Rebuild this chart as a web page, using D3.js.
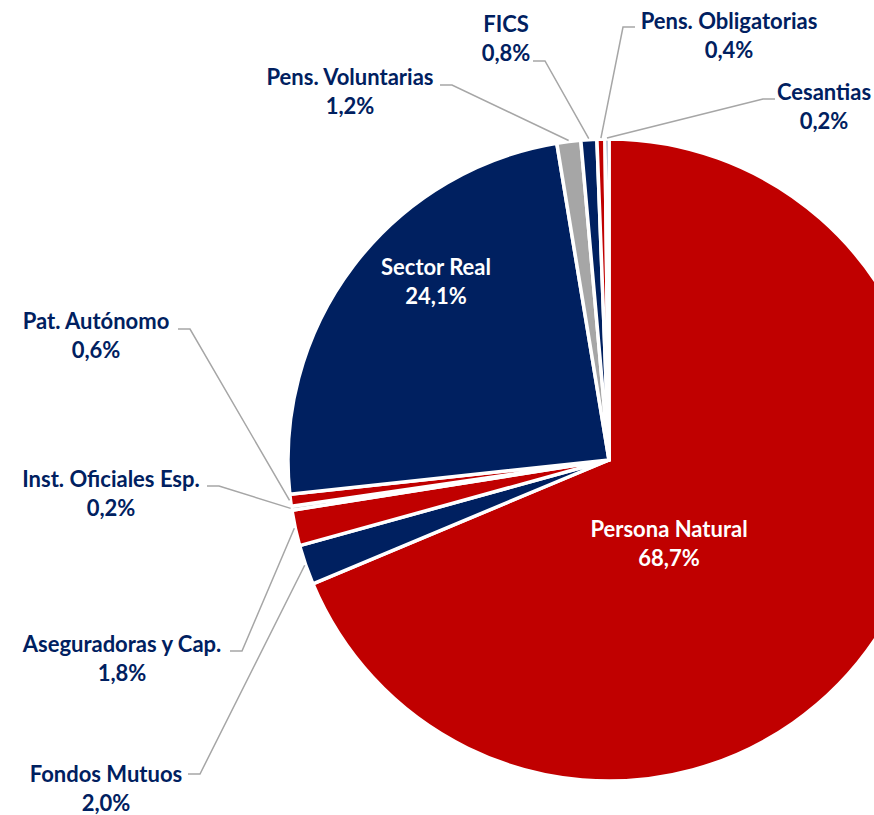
<!DOCTYPE html>
<html>
<head>
<meta charset="utf-8">
<script src="https://cdn.jsdelivr.net/npm/d3@7"></script>
<style>
  body { margin: 0; background: #fff; }
  svg { display: block; }
</style>
</head>
<body>
<script>
// slice order runs clockwise from 12 o'clock
const categories = ["Persona Natural", "Fondos Mutuos", "Aseguradoras y Cap.", "Inst. Oficiales Esp.",
  "Pat. Autónomo", "Sector Real", "Pens. Voluntarias", "FICS", "Pens. Obligatorias", "Cesantias"];
const shares = [68.7, 2.0, 1.8, 0.2, 0.6, 24.1, 1.2, 0.8, 0.4, 0.2];
const sliceColors = ["#C00000", "#002060", "#C00000", "#A6A6A6", "#C00000", "#002060", "#A6A6A6", "#002060", "#C00000", "#002060"];

// where each label sits (text centre, first baseline) and where its leader starts
const labelLayout = {
  "Persona Natural": {x: 669, y: 537, inside: true},
  "Sector Real": {x: 436, y: 275, inside: true},
  "Fondos Mutuos": {x: 106, y: 782, lx: 188, ly: 774, dir: 1},
  "Aseguradoras y Cap.": {x: 122, y: 652, lx: 230, ly: 651, dir: 1},
  "Inst. Oficiales Esp.": {x: 111, y: 487, lx: 207, ly: 486, dir: 1},
  "Pat. Autónomo": {x: 96, y: 329, lx: 178, ly: 329, dir: 1},
  "Pens. Voluntarias": {x: 350, y: 85, lx: 440, ly: 85, dir: 1},
  "FICS": {x: 506, y: 32, lx: 533, ly: 61, dir: 1},
  "Pens. Obligatorias": {x: 729, y: 29, lx: 635, ly: 27, dir: -1},
  "Cesantias": {x: 824, y: 100, lx: 775, ly: 99, dir: -1}
};

const width = 874, height = 815;
const cx = 609, cy = 460, radius = 321;
const navy = "#002060";

const locale = d3.formatLocale({decimal: ",", thousands: ".", grouping: [3], currency: ["$", ""]});
const fmt = locale.format(".1f");

const data = categories.map((name, i) => ({name, value: shares[i], color: sliceColors[i]}));

const pie = d3.pie().sort(null).value(d => d.value);
const arcs = pie(data);
const arc = d3.arc().innerRadius(0).outerRadius(radius);
const edge = d3.arc().innerRadius(radius + 1).outerRadius(radius + 1);

const svg = d3.select("body").append("svg")
    .attr("width", width)
    .attr("height", height);

const g = svg.append("g").attr("transform", `translate(${cx},${cy})`);

g.selectAll("path.slice")
  .data(arcs)
  .join("path")
    .attr("class", "slice")
    .attr("d", arc)
    .attr("fill", d => d.data.color)
    .attr("stroke", "#fff")
    .attr("stroke-width", 3.5)
    .attr("stroke-linejoin", "round");

// leader lines for the outside labels
const outside = arcs.filter(d => !labelLayout[d.data.name].inside);
svg.append("g")
    .attr("fill", "none")
    .attr("stroke", "#A6A6A6")
    .attr("stroke-width", 1.5)
  .selectAll("path")
  .data(outside)
  .join("path")
    .attr("d", d => {
      const L = labelLayout[d.data.name];
      const [ex, ey] = edge.centroid(d);
      return d3.line()([[L.lx, L.ly], [L.lx + 12 * L.dir, L.ly], [cx + ex, cy + ey]]);
    });

const labels = svg.append("g")
    .attr("font-family", "Lato, 'Open Sans', sans-serif")
    .attr("font-weight", "bold")
    .attr("font-size", 22)
    .attr("text-anchor", "middle")
  .selectAll("text")
  .data(arcs)
  .join("text")
    .attr("fill", d => labelLayout[d.data.name].inside ? "#fff" : navy)
    .attr("x", d => labelLayout[d.data.name].x)
    .attr("y", d => labelLayout[d.data.name].y);

labels.append("tspan")
    .attr("x", d => labelLayout[d.data.name].x)
    .text(d => d.data.name);
labels.append("tspan")
    .attr("x", d => labelLayout[d.data.name].x)
    .attr("dy", 29)
    .text(d => fmt(d.data.value) + "%");
</script>
</body>
</html>
